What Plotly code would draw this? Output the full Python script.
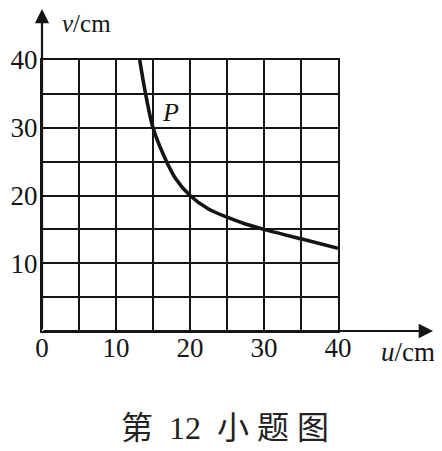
import plotly.graph_objects as go

# Data
u_vals = [13.2, 14.0, 15.0, 16.5, 18.0, 20.0, 22.5, 25.0, 27.5, 30.0, 35.0, 40.0]
v_vals = [40.0, 35.0, 30.0, 25.8, 22.6, 20.0, 18.0, 16.8, 15.8, 15.0, 13.6, 12.2]
tick_vals = [0, 5, 10, 15, 20, 25, 30, 35, 40]
x_tick_text = ["0", "", "10", "", "20", "", "30", "", "40"]
y_tick_text = ["", "", "10", "", "20", "", "30", "", "40"]
caption = "第  12  小 题 图"

INK = "#151515"
SERIF = "Liberation Serif, Times New Roman, serif"

fig = go.Figure()
fig.add_trace(go.Scatter(
    x=u_vals, y=v_vals, mode="lines",
    line=dict(color=INK, width=3.6, shape="spline", smoothing=0.8),
    hoverinfo="skip", showlegend=False, cliponaxis=True,
))

axis_common = dict(
    range=[0, 40], tickvals=tick_vals,
    showgrid=True, gridcolor=INK, gridwidth=2.2,
    zeroline=False, showline=True, mirror=True, linecolor=INK, linewidth=2.2,
    ticks="", tickfont=dict(family=SERIF, size=27, color=INK),
    fixedrange=True, automargin=False,
)
fig.update_xaxes(**axis_common, ticktext=x_tick_text, ticklabelstandoff=-9)
fig.update_yaxes(**axis_common, ticktext=y_tick_text, ticklabelstandoff=-3)

annotations = [
    # x-axis arrow
    dict(x=1.321, y=0, xref="paper", yref="paper", ax=-391, ay=0, text="",
         showarrow=True, arrowhead=2, arrowsize=1.3, arrowwidth=2.2, arrowcolor=INK),
    # y-axis arrow
    dict(x=0, y=1.203, xref="paper", yref="paper", ax=0, ay=326, text="",
         showarrow=True, arrowhead=2, arrowsize=1.3, arrowwidth=2.2, arrowcolor=INK),
    dict(x=0.149, y=1.133, xref="paper", yref="paper", text="<i>v</i>/cm",
         xanchor="center", yanchor="middle", borderpad=0,
         showarrow=False, font=dict(family=SERIF, size=25, color=INK)),
    dict(x=1.236, y=-0.077, xref="paper", yref="paper", text="<i>u</i>/cm",
         xanchor="center", yanchor="middle",
         showarrow=False, font=dict(family=SERIF, size=27, color=INK)),
    dict(x=17.3, y=32.2, xref="x", yref="y", text="<i>P</i>",
         xanchor="center", yanchor="middle",
         showarrow=False, font=dict(family=SERIF, size=26, color=INK)),
    dict(x=0.618, y=-0.358, xref="paper", yref="paper", text=caption,
         xanchor="center", yanchor="middle", showarrow=False,
         font=dict(family="Liberation Serif, Noto Sans CJK SC", size=32, color="#222")),
]

# page body has an 8px margin, so the figure is offset by 8px
fig.update_layout(
    width=442, height=451,
    margin=dict(l=34, r=112, t=52, b=128, autoexpand=False),
    paper_bgcolor="white", plot_bgcolor="white",
    annotations=annotations,
    showlegend=False,
)

fig.write_html("out.html", config={"displayModeBar": False})
